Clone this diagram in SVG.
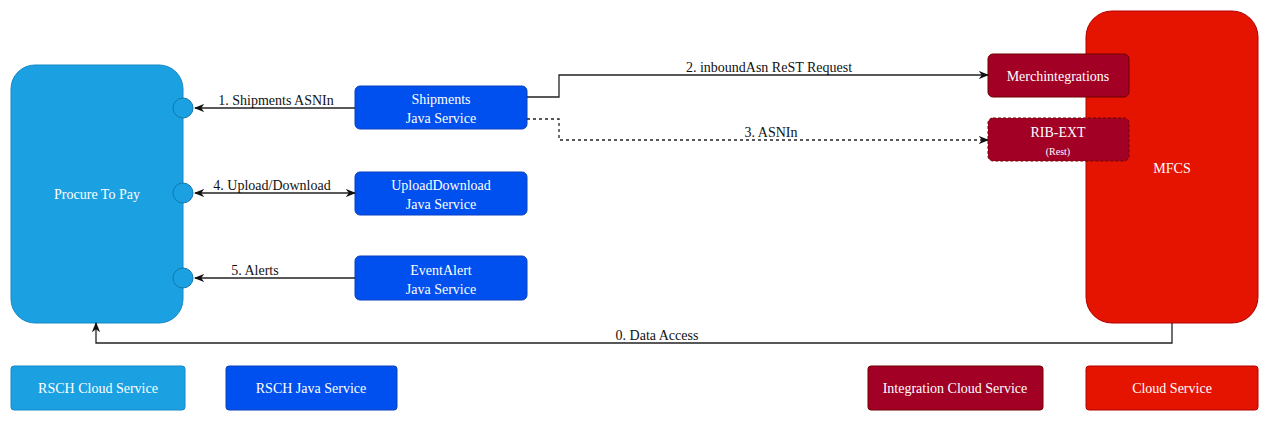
<svg xmlns="http://www.w3.org/2000/svg" width="1269" height="421" viewBox="0 0 1269 421">
<style>
text{font-family:"Liberation Serif",serif;font-size:14px}
.w{fill:#fff;text-anchor:middle}
.l{fill:#111}
.c{fill:none;stroke:#222;stroke-width:1.3}
.jv{fill:#0050ef;stroke:#0a40c0}
.ic{fill:#a20025;stroke:#6f0000}
</style>
<defs><marker id="a" viewBox="0 0 10 10" refX="9" refY="5" markerWidth="8" markerHeight="8" orient="auto-start-reverse"><path d="M0,1 L10,5 L0,9 L3,5 Z" fill="#111"/></marker></defs>
<rect width="1269" height="421" fill="#fff"/>
<g id="mfcs"><rect x="1086" y="11" width="172" height="312" rx="26" fill="#e51400" stroke="#b20000"/><text class="w" x="1172" y="173">MFCS</text></g>
<g id="p2p"><rect x="11" y="65" width="172" height="258" rx="24" fill="#1ba1e2" stroke="#1488c6"/><text class="w" x="97" y="199">Procure To Pay</text>
<circle cx="183" cy="108" r="10" fill="#1ba1e2" stroke="#1078b0"/><circle cx="183" cy="193" r="10" fill="#1ba1e2" stroke="#1078b0"/><circle cx="183" cy="278" r="10" fill="#1ba1e2" stroke="#1078b0"/></g>
<g id="ship"><rect class="jv" x="355" y="86" width="172" height="43" rx="5"/><text class="w" x="441" y="104">Shipments</text><text class="w" x="441" y="123">Java Service</text></g>
<g id="ud"><rect class="jv" x="355" y="172" width="172" height="43" rx="5"/><text class="w" x="441" y="190">UploadDownload</text><text class="w" x="441" y="209">Java Service</text></g>
<g id="ea"><rect class="jv" x="355" y="256" width="172" height="44" rx="5"/><text class="w" x="441" y="275">EventAlert</text><text class="w" x="441" y="294">Java Service</text></g>
<g id="merch"><rect class="ic" x="988" y="54" width="141" height="43" rx="5"/><text class="w" x="1058" y="81">Merchintegrations</text></g>
<g id="rib"><rect class="ic" x="988" y="118" width="141" height="43" rx="5" stroke-dasharray="3 2"/><text class="w" x="1058" y="137">RIB-EXT</text><text class="w" x="1058" y="155" style="font-size:10px">(Rest)</text></g>
<g id="connectors">
<path class="c" d="M355,108 H195" marker-end="url(#a)"/>
<path class="c" d="M195,193 H355" marker-start="url(#a)" marker-end="url(#a)"/>
<path class="c" d="M355,278 H195" marker-end="url(#a)"/>
<path class="c" d="M527,97 H559 V75 H988" marker-end="url(#a)"/>
<path class="c" d="M527,119 H559 V140 H988" stroke-dasharray="3 3" marker-end="url(#a)"/>
<path class="c" d="M1172,323 V343 H96 V323" marker-end="url(#a)"/>
</g>
<g id="labels">
<text class="l" x="276" y="105" text-anchor="middle">1. Shipments ASNIn</text>
<text class="l" x="272" y="190" text-anchor="middle">4. Upload/Download</text>
<text class="l" x="255" y="275" text-anchor="middle">5. Alerts</text>
<text class="l" x="769" y="72" text-anchor="middle">2. inboundAsn ReST Request</text>
<text class="l" x="771" y="137" text-anchor="middle">3. ASNIn</text>
<text class="l" x="657" y="340" text-anchor="middle">0. Data Access</text>
</g>
<g id="legend">
<rect x="11" y="366" width="174" height="44" rx="3" fill="#1ba1e2" stroke="#1488c6"/><text class="w" x="98" y="393">RSCH Cloud Service</text>
<rect class="jv" x="226" y="366" width="171" height="44" rx="3"/><text class="w" x="311" y="393">RSCH Java Service</text>
<rect class="ic" x="868" y="366" width="175" height="44" rx="3"/><text class="w" x="955" y="393">Integration Cloud Service</text>
<rect x="1086" y="366" width="172" height="44" rx="3" fill="#e51400" stroke="#b20000"/><text class="w" x="1172" y="393">Cloud Service</text>
</g>
</svg>
